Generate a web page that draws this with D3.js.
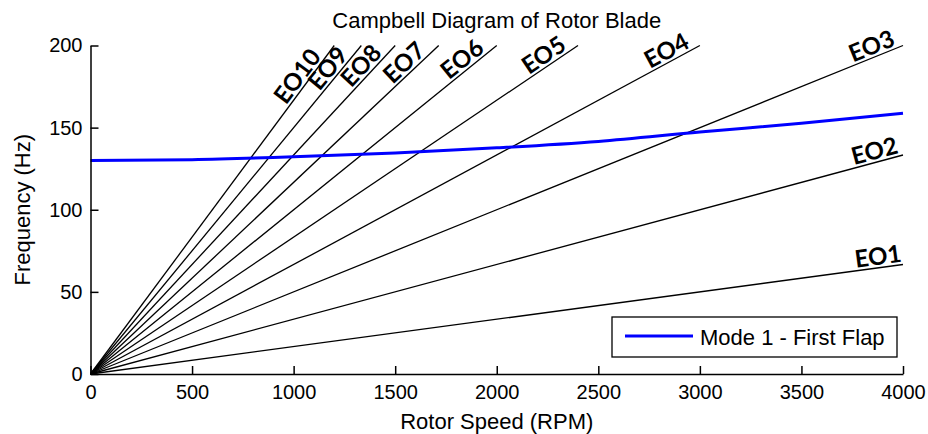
<!DOCTYPE html>
<html>
<head>
<meta charset="utf-8">
<script src="https://cdn.jsdelivr.net/npm/d3@7"></script>
<style>
  html, body { margin: 0; padding: 0; background: #fff; }
  svg { display: block; }
  .axis text { font-family: "Liberation Sans", Arial, sans-serif; font-size: 20px; fill: #000; }
  .axis path, .axis line { stroke: #000; stroke-width: 1.5; }
</style>
</head>
<body>
<svg id="chart" width="928" height="434"></svg>
<script>
// Rotor speed samples (RPM) and first flap mode frequency (Hz)
const rpm = [0, 500, 1000, 1500, 2000, 2500, 3000, 3500, 4000];
const mode1Hz = [130, 130.5, 132.2, 134.6, 137.7, 141.6, 147.3, 152.6, 158.7];

// Engine orders drawn as excitation lines (f = EO * RPM / 60)
const engineOrders = [1, 2, 3, 4, 5, 6, 7, 8, 9, 10];
const eoLabels = ["EO1", "EO2", "EO3", "EO4", "EO5", "EO6", "EO7", "EO8", "EO9", "EO10"];

const xTicks = [0, 500, 1000, 1500, 2000, 2500, 3000, 3500, 4000];
const yTicks = [0, 50, 100, 150, 200];
const xDomain = [0, 4000];
const yDomain = [0, 200];

const titleText = "Campbell Diagram of Rotor Blade";
const xLabel = "Rotor Speed (RPM)";
const yLabel = "Frequency (Hz)";
const legendLabel = "Mode 1 - First Flap";

const svg = d3.select("#chart");
const W = 928, H = 434;
const margin = { left: 90.5, right: 25, top: 45.5, bottom: 60 };
const textFont = "'Liberation Sans', Arial, sans-serif";

const x = d3.scaleLinear().domain(xDomain).range([margin.left, W - margin.right]);
const y = d3.scaleLinear().domain(yDomain).range([H - margin.bottom, margin.top]);

// Engine order lines, clipped at the top of the frequency range
const eoLines = engineOrders.map((eo, i) => {
  const rEnd = Math.min(xDomain[1], yDomain[1] * 60 / eo);
  return { eo, label: eoLabels[i], r0: 0, f0: 0, r1: rEnd, f1: eo * rEnd / 60 };
});

svg.append("g").selectAll("line")
  .data(eoLines)
  .join("line")
  .attr("x1", d => x(d.r0)).attr("y1", d => y(d.f0))
  .attr("x2", d => x(d.r1)).attr("y2", d => y(d.f1))
  .attr("stroke", "#000")
  .attr("stroke-width", 1.3);

// Rotated order labels resting on the upper end of each line
svg.append("g").selectAll("text")
  .data(eoLines)
  .join("text")
  .attr("transform", d => {
    const px = x(d.r1), py = y(d.f1);
    const a = Math.atan2(py - y(d.f0), px - x(d.r0));
    const back = 24 * Math.sin(-a) - 3;
    const tx = px - back * Math.cos(a), ty = py - back * Math.sin(a);
    return `translate(${tx},${ty}) rotate(${a * 180 / Math.PI})`;
  })
  .attr("dy", -3)
  .attr("text-anchor", "end")
  .style("font-family", "Lato, 'Open Sans', sans-serif")
  .style("font-weight", "bold")
  .style("font-size", "24px")
  .text(d => d.label);

// First flap mode curve
const modeData = rpm.map((r, i) => ({ r, f: mode1Hz[i] }));
svg.append("path")
  .datum(modeData)
  .attr("fill", "none")
  .attr("stroke", "#0000ff")
  .attr("stroke-width", 3)
  .attr("d", d3.line().x(d => x(d.r)).y(d => y(d.f)).curve(d3.curveMonotoneX));

// Axes with inward ticks
svg.append("g")
  .attr("class", "axis")
  .attr("transform", `translate(0,${y(0)})`)
  .call(d3.axisBottom(x).tickValues(xTicks).tickFormat(d3.format("d"))
    .tickSizeInner(-8).tickSizeOuter(0).tickPadding(11));

svg.append("g")
  .attr("class", "axis")
  .attr("transform", `translate(${x(0)},0)`)
  .call(d3.axisLeft(y).tickValues(yTicks).tickFormat(d3.format("d"))
    .tickSizeInner(-8).tickSizeOuter(0).tickPadding(8));

// Title and axis labels
svg.append("text")
  .attr("x", (x.range()[0] + x.range()[1]) / 2)
  .attr("y", 28)
  .attr("text-anchor", "middle")
  .style("font-family", textFont)
  .style("font-size", "22px")
  .text(titleText);

svg.append("text")
  .attr("x", (x.range()[0] + x.range()[1]) / 2)
  .attr("y", 429)
  .attr("text-anchor", "middle")
  .style("font-family", textFont)
  .style("font-size", "22px")
  .text(xLabel);

svg.append("text")
  .attr("transform", `translate(30,${(y.range()[0] + y.range()[1]) / 2}) rotate(-90)`)
  .attr("text-anchor", "middle")
  .style("font-family", textFont)
  .style("font-size", "22px")
  .text(yLabel);

// Legend
const legend = svg.append("g").attr("transform", "translate(612,317)");
legend.append("rect")
  .attr("width", 285).attr("height", 40)
  .attr("fill", "#fff").attr("stroke", "#000").attr("stroke-width", 1.3);
legend.append("line")
  .attr("x1", 13).attr("x2", 81).attr("y1", 19).attr("y2", 19)
  .attr("stroke", "#0000ff").attr("stroke-width", 3);
legend.append("text")
  .attr("x", 88).attr("y", 28)
  .style("font-family", textFont)
  .style("font-size", "22px")
  .text(legendLabel);
</script>
</body>
</html>
